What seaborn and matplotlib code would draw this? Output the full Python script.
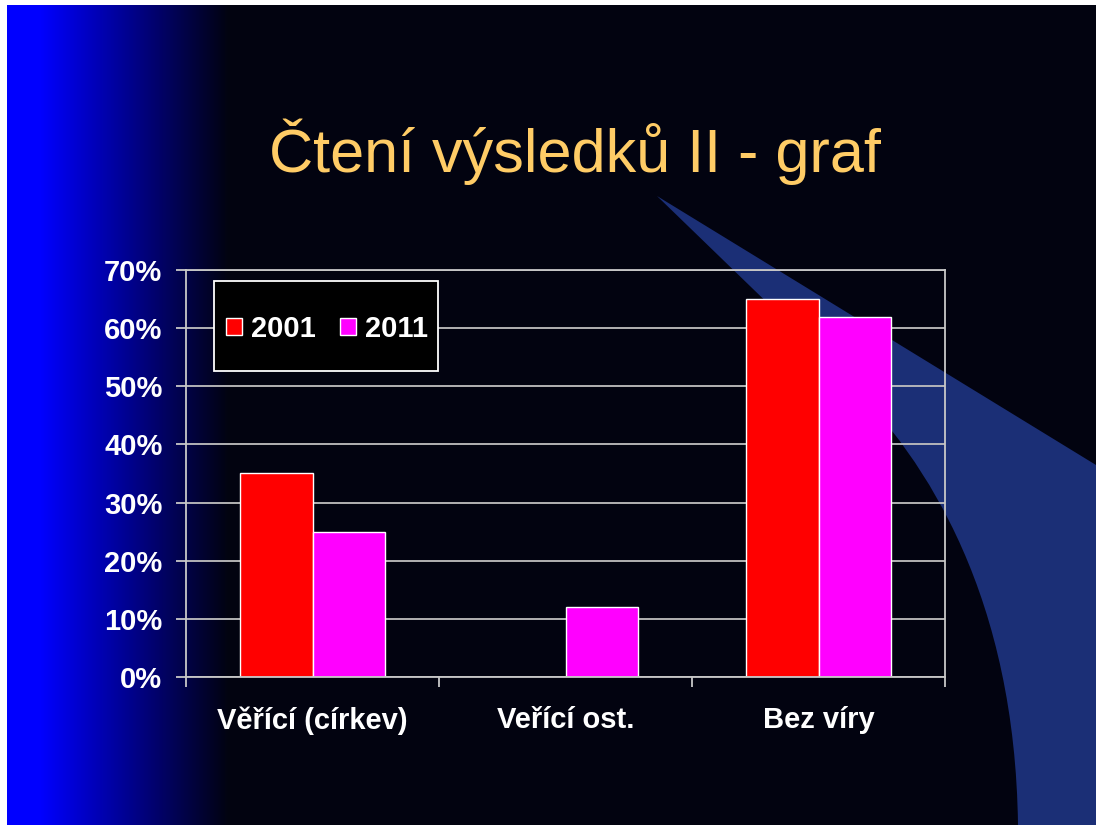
import numpy as np
import pandas as pd
import matplotlib
matplotlib.use('Agg')
import matplotlib.pyplot as plt
from matplotlib.patches import PathPatch, Rectangle
from matplotlib.path import Path
from matplotlib.ticker import FuncFormatter
import seaborn as sns

# data
categories = ['Věřící (církev)', 'Veřící ost.', 'Bez víry']
years = ['2001', '2011']
vals_2001 = [35, 0, 65]
vals_2011 = [25, 12, 62]
colors = ['#ff0000', '#ff00ff']

df = pd.DataFrame({
    'kategorie': categories * 2,
    'rok': [years[0]] * 3 + [years[1]] * 3,
    'podil': vals_2001 + vals_2011,
})

sns.set_theme(style='dark')
plt.rcParams['font.family'] = ['Liberation Sans', 'DejaVu Sans']

W, H = 1096, 825
fig = plt.figure(figsize=(W / 100, H / 100), dpi=100)
fig.patch.set_facecolor('#020310')

# slide background: blue fade on the left, blue swoosh on the right
bg = fig.add_axes([0, 0, 1, 1], zorder=0)
bg.set_xlim(0, W)
bg.set_ylim(H, 0)
bg.axis('off')
xs = np.arange(W)
t = np.clip((xs - 40) / (228 - 40), 0, 1)
blue = np.array([0, 0, 1.0])
dark = np.array([0.008, 0.012, 0.063])
row = (1 - t)[:, None] * blue + t[:, None] * dark
bg.imshow(np.repeat(row[None, :, :], 2, axis=0), extent=(0, W, H, 0), aspect='auto')

verts = [(657, 196), (1096, 465), (1096, 825), (1018, 825),
         (1015, 600), (930, 462), (845, 378), (657, 196)]
codes = [Path.MOVETO, Path.LINETO, Path.LINETO, Path.LINETO,
         Path.CURVE4, Path.CURVE4, Path.CURVE4, Path.CLOSEPOLY]
bg.add_patch(PathPatch(Path(verts, codes), facecolor='#1b2f76', edgecolor='none'))
bg.add_patch(Rectangle((0, 0), W, 5, facecolor='white', edgecolor='none'))
bg.add_patch(Rectangle((0, 0), 7, H, facecolor='white', edgecolor='none'))

fig.text(575 / W, 1 - 172 / H, 'Čtení výsledků II - graf', ha='center', va='baseline',
         fontsize=44, color='#ffcc66')

ax = fig.add_axes([186 / W, 1 - 677 / H, (945 - 186) / W, (677 - 270) / H], zorder=1)
ax.set_facecolor('none')
sns.barplot(data=df, x='kategorie', y='podil', hue='rok', palette=colors,
            width=0.57, edgecolor='white', linewidth=1, ax=ax, saturation=1)

ax.set_xlim(-0.5, 2.5)
ax.set_ylim(0, 70)
ax.set_yticks(range(0, 71, 10))
ax.yaxis.set_major_formatter(FuncFormatter(lambda v, p: f'{v:.0f}%'))
ax.set_xlabel('')
ax.set_ylabel('')
ax.grid(axis='y', color='#c0c0c0', linewidth=1.3)
ax.grid(axis='x', visible=False)
ax.set_axisbelow(True)
for s in ax.spines.values():
    s.set_visible(True)
    s.set_color('#c8c8c8')
    s.set_linewidth(1.3)
ax.tick_params(axis='y', left=True, length=7, width=1.3, color='#c8c8c8', pad=10,
               labelsize=21, labelcolor='white')
ax.tick_params(axis='x', bottom=True, length=0, pad=21, labelsize=21, labelcolor='white')
ax.set_xticks([-0.5, 0.5, 1.5, 2.5], minor=True)
ax.tick_params(axis='x', which='minor', bottom=True, length=7, width=1.3, color='#c8c8c8')
for lab in ax.get_xticklabels() + ax.get_yticklabels():
    lab.set_fontweight('bold')

# legend box drawn as in the slide (taller than wide padding)
ax.add_patch(Rectangle((0.0369, 0.752), 0.295, 0.221, transform=ax.transAxes,
                       facecolor='black', edgecolor='white', linewidth=1.3,
                       clip_on=False, zorder=4))
leg = ax.legend(loc='center', bbox_to_anchor=(0.1855, 0.855), ncol=2, frameon=False,
                prop={'size': 21, 'weight': 'bold'}, labelcolor='white',
                handlelength=0.55, handleheight=0.55, handletextpad=0.3,
                columnspacing=0.85, borderpad=0, borderaxespad=0)
leg.set_zorder(5)

fig.savefig('out.png', dpi=100, facecolor=fig.get_facecolor())
